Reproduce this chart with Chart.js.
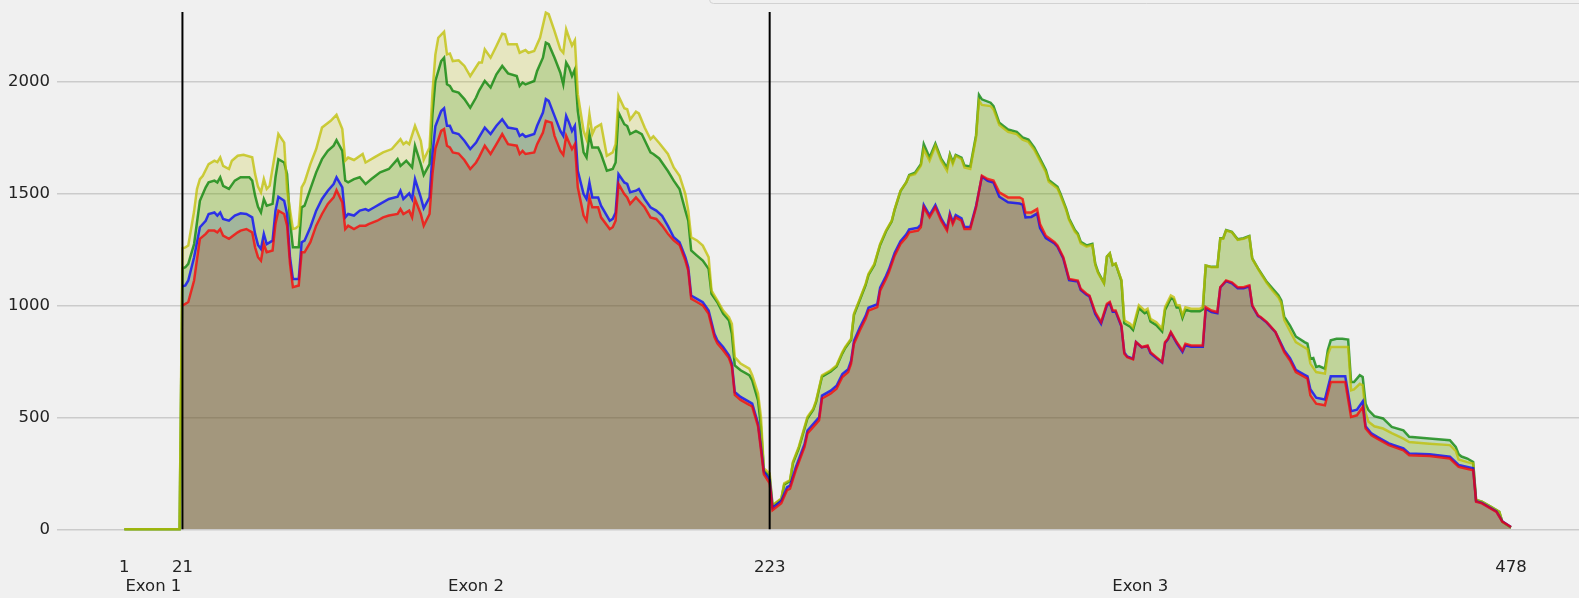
<!DOCTYPE html>
<html>
<head>
<meta charset="utf-8">
<script src="https://cdn.jsdelivr.net/npm/chart.js@4.4.1/dist/chart.umd.min.js"></script>
<style>
  html, body { margin: 0; padding: 0; background: #f0f0f0; overflow: hidden; }
  #wrap { width: 1579px; height: 598px; position: relative; }
</style>
</head>
<body>
<div id="wrap"><canvas id="c"></canvas></div>
<script>
// ---- data: [position, coverage] ----
const xTickValues = [1, 21, 223, 478];
const exonCenters = [11, 122, 350.5];
const exonNames = ["Exon 1", "Exon 2", "Exon 3"];
const exonBoundaries = [21, 223];
const yTickValues = [0, 500, 1000, 1500, 2000];

const yellowSeries = [[1,0],[20,0],[21,1255],[22,1259],[23,1267],[25,1420],[26,1520],[27,1564],[28,1579],[30,1631],[32,1646],[33,1640],[34,1661],[35,1623],[37,1609],[38,1646],[40,1668],[42,1672],[45,1661],[46,1586],[47,1530],[48,1505],[49,1564],[50,1520],[51,1534],[53,1690],[54,1765],[56,1727],[57,1512],[59,1341],[60,1345],[61,1356],[62,1527],[63,1550],[65,1631],[67,1698],[69,1794],[72,1824],[74,1851],[76,1787],[77,1646],[78,1660],[80,1649],[83,1676],[84,1638],[87,1661],[90,1683],[93,1698],[96,1742],[97,1720],[98,1730],[99,1720],[101,1802],[103,1735],[104,1650],[106,1705],[107,1950],[108,2120],[109,2195],[111,2222],[112,2121],[113,2125],[114,2091],[116,2094],[118,2069],[120,2024],[123,2084],[124,2084],[125,2143],[127,2106],[129,2158],[131,2213],[132,2210],[133,2166],[136,2166],[137,2128],[139,2140],[140,2128],[142,2136],[144,2195],[146,2307],[147,2300],[149,2225],[151,2143],[152,2128],[153,2233],[154,2195],[155,2160],[156,2184],[157,1943],[159,1779],[160,1742],[161,1854],[162,1765],[163,1794],[165,1809],[167,1668],[169,1683],[170,1720],[171,1935],[173,1880],[174,1876],[175,1830],[177,1865],[178,1857],[180,1794],[182,1742],[183,1755],[185,1725],[188,1676],[190,1616],[192,1579],[194,1497],[195,1423],[196,1304],[198,1290],[200,1267],[202,1215],[203,1066],[205,1022],[207,977],[209,947],[210,918],[211,769],[213,740],[216,717],[217,688],[219,606],[220,502],[221,272],[223,250],
[224,108],[227,138],[228,205],[230,220],[231,301],[233,368],[236,502],[238,539],[239,576],[241,688],[244,710],[246,732],[248,791],[249,814],[251,851],[252,963],[254,1029],[256,1096],[257,1141],[259,1185],[260,1230],[261,1274],[263,1334],[265,1378],[266,1430],[268,1512],[270,1549],[271,1579],[273,1586],[275,1623],[276,1697],[278,1646],[280,1713],[282,1646],[284,1601],[285,1668],[286,1631],[287,1668],[289,1653],[290,1616],[292,1609],[294,1750],[295,1915],[296,1895],[299,1890],[300,1875],[302,1805],[305,1775],[308,1765],[310,1740],[312,1730],[314,1695],[316,1645],[318,1595],[319,1552],[322,1522],[323,1492],[325,1425],[326,1381],[328,1329],[329,1314],[330,1277],[332,1262],[334,1269],[335,1180],[336,1143],[338,1098],[339,1217],[340,1232],[341,1180],[342,1187],[344,1113],[345,933],[347,918],[348,903],[350,1000],[352,977],[353,985],[354,940],[356,925],[358,896],[359,992],[361,1044],[362,1037],[363,1000],[364,1000],[365,955],[366,992],[368,985],[371,985],[372,992],[373,1178],[375,1170],[377,1170],[378,1297],[379,1297],[380,1334],[382,1326],[384,1292],[386,1297],[388,1307],[389,1208],[391,1163],[392,1141],[394,1100],[396,1065],[398,1035],[399,1010],[400,935],[402,885],[404,836],[407,812],[408,805],[409,740],[411,702],[414,695],[415,780],[416,814],[422,814],[423,621],[424,625],[426,650],[427,643],[428,520],[429,480],[431,460],[434,450],[437,430],[441,405],[443,390],[450,382],[457,376],[459,350],[460,312],[463,300],[465,294],[466,131],[468,123],[471,101],[474,78],[475,34],[478,8]];

const greenSeries = [[1,0],[20,0],[21,1165],[22,1170],[23,1185],[25,1274],[27,1467],[29,1527],[30,1549],[32,1557],[33,1549],[34,1572],[35,1534],[37,1520],[39,1557],[41,1572],[44,1572],[45,1557],[46,1490],[47,1440],[48,1415],[49,1475],[50,1445],[52,1453],[53,1572],[54,1653],[56,1638],[57,1586],[58,1378],[59,1259],[61,1259],[62,1438],[63,1445],[65,1520],[67,1594],[69,1653],[71,1690],[73,1713],[74,1738],[76,1690],[77,1557],[78,1549],[80,1564],[82,1572],[84,1542],[86,1564],[89,1594],[92,1609],[95,1653],[96,1623],[98,1646],[100,1616],[101,1713],[103,1631],[104,1583],[106,1631],[107,1854],[108,2002],[110,2091],[111,2106],[112,1987],[113,1980],[114,1958],[116,1950],[118,1921],[120,1883],[122,1928],[123,1958],[125,2002],[127,1973],[129,2032],[131,2069],[133,2036],[136,2024],[137,1980],[138,1995],[139,1987],[142,2002],[143,2047],[145,2106],[146,2173],[147,2166],[149,2106],[151,2039],[152,1987],[153,2084],[154,2062],[155,2024],[156,2054],[157,1869],[159,1683],[160,1661],[161,1765],[162,1705],[164,1705],[165,1676],[167,1601],[169,1609],[170,1638],[171,1861],[173,1809],[174,1801],[175,1765],[177,1779],[179,1765],[182,1683],[183,1676],[185,1656],[188,1600],[190,1557],[192,1520],[194,1423],[195,1378],[196,1245],[198,1222],[200,1200],[202,1163],[203,1052],[205,1014],[207,963],[209,933],[210,873],[211,732],[213,710],[216,688],[217,665],[219,576],[220,457],[221,264],[223,234],
[224,105],[227,135],[228,200],[230,216],[231,296],[233,362],[236,496],[238,534],[239,570],[241,682],[244,705],[246,727],[248,786],[249,810],[251,846],[252,958],[254,1024],[256,1091],[257,1136],[259,1180],[260,1226],[261,1270],[263,1330],[265,1376],[266,1428],[268,1510],[270,1550],[271,1582],[273,1592],[275,1630],[276,1720],[278,1660],[280,1722],[282,1655],[284,1615],[285,1675],[286,1640],[287,1672],[289,1660],[290,1625],[292,1620],[294,1760],[295,1940],[296,1920],[299,1905],[300,1890],[302,1815],[305,1785],[308,1775],[310,1750],[312,1740],[314,1705],[316,1655],[318,1605],[319,1560],[322,1530],[323,1500],[325,1432],[326,1388],[328,1336],[329,1320],[330,1284],[332,1268],[334,1275],[335,1186],[336,1148],[338,1100],[339,1218],[340,1232],[341,1180],[342,1186],[344,1110],[345,920],[347,905],[348,890],[350,988],[352,965],[353,972],[354,928],[356,912],[358,884],[359,980],[361,1032],[362,1026],[363,990],[364,990],[365,944],[366,980],[368,974],[371,974],[372,982],[373,1178],[375,1172],[377,1172],[378,1300],[379,1300],[380,1336],[382,1328],[384,1295],[386,1300],[388,1310],[389,1210],[391,1165],[392,1145],[394,1105],[396,1075],[398,1045],[399,1022],[400,950],[402,910],[404,861],[407,836],[408,829],[409,762],[410,765],[411,725],[412,729],[414,717],[415,800],[416,844],[418,851],[420,851],[422,847],[423,658],[424,658],[426,688],[427,680],[428,561],[429,532],[431,505],[434,495],[437,457],[441,442],[443,413],[450,405],[457,398],[459,368],[460,335],[461,325],[463,316],[465,301],[466,131],[468,123],[471,101],[474,78],[475,34],[478,8]];

const blueSeries = [[21,1085],[22,1089],[23,1111],[25,1215],[27,1349],[29,1378],[30,1408],[32,1415],[33,1401],[34,1415],[35,1386],[37,1378],[39,1401],[41,1411],[43,1408],[45,1393],[46,1319],[47,1270],[48,1252],[49,1319],[50,1274],[52,1289],[53,1423],[54,1485],[56,1467],[57,1408],[58,1215],[59,1118],[61,1118],[62,1282],[63,1289],[65,1349],[67,1423],[69,1475],[71,1512],[73,1542],[74,1572],[76,1527],[77,1393],[78,1408],[80,1401],[82,1423],[84,1430],[85,1423],[87,1438],[89,1453],[92,1475],[95,1485],[96,1512],[97,1475],[99,1500],[100,1475],[101,1564],[103,1482],[104,1434],[106,1482],[107,1675],[108,1800],[110,1868],[111,1880],[112,1802],[113,1802],[114,1772],[116,1765],[118,1735],[120,1698],[122,1727],[123,1750],[125,1794],[127,1765],[129,1802],[131,1831],[133,1794],[136,1787],[137,1757],[138,1765],[139,1753],[142,1765],[143,1802],[145,1861],[146,1921],[147,1913],[149,1846],[151,1779],[152,1757],[153,1846],[154,1816],[155,1779],[156,1802],[157,1601],[159,1497],[160,1475],[161,1549],[162,1482],[164,1482],[165,1445],[168,1378],[169,1386],[170,1415],[171,1586],[173,1549],[174,1542],[175,1505],[177,1512],[178,1520],[180,1475],[182,1438],[184,1423],[186,1400],[188,1355],[190,1304],[192,1282],[194,1215],[195,1170],[196,1044],[198,1029],[200,1014],[202,977],[204,873],[205,844],[207,814],[209,777],[210,740],[211,613],[213,591],[216,569],[217,561],[219,472],[220,368],[221,257],[223,220],
[224,95],[227,128],[229,188],[230,195],[232,277],[235,381],[236,441],[239,485],[240,500],[241,597],[244,619],[246,641],[248,693],[250,715],[251,753],[252,842],[254,901],[256,953],[257,990],[260,1005],[261,1079],[263,1131],[264,1161],[266,1235],[268,1287],[270,1317],[271,1339],[274,1347],[275,1360],[276,1448],[278,1403],[280,1448],[282,1388],[284,1344],[285,1411],[286,1373],[287,1403],[289,1388],[290,1350],[292,1350],[294,1445],[296,1575],[298,1556],[300,1548],[302,1485],[305,1460],[309,1455],[310,1450],[311,1393],[313,1395],[315,1410],[316,1345],[318,1300],[321,1276],[322,1262],[324,1210],[326,1113],[329,1106],[330,1069],[332,1047],[333,1040],[335,962],[337,918],[339,1000],[340,1010],[341,972],[342,972],[344,905],[345,790],[346,772],[348,762],[349,836],[351,812],[353,818],[354,786],[356,765],[358,745],[359,832],[360,848],[361,878],[363,832],[365,792],[366,822],[368,815],[372,815],[373,985],[375,970],[377,965],[378,1080],[380,1108],[382,1098],[384,1076],[386,1076],[388,1085],[389,998],[391,952],[392,945],[394,923],[397,880],[400,800],[402,764],[404,712],[407,690],[408,683],[409,625],[411,588],[414,580],[416,683],[421,683],[423,527],[425,534],[427,571],[428,460],[430,428],[432,413],[436,384],[441,361],[443,339],[450,335],[457,324],[460,287],[465,272],[466,125],[468,118],[473,80],[475,36],[478,10]];

const redSeries = [[21,1000],[22,1007],[23,1015],[25,1111],[27,1297],[29,1319],[30,1334],[32,1334],[33,1326],[34,1341],[35,1311],[37,1297],[40,1326],[41,1334],[43,1341],[45,1326],[46,1259],[47,1215],[48,1200],[49,1274],[50,1237],[52,1245],[53,1364],[54,1423],[56,1408],[57,1356],[58,1185],[59,1081],[61,1089],[62,1237],[63,1237],[65,1282],[67,1356],[69,1408],[71,1453],[73,1482],[74,1515],[76,1460],[77,1341],[78,1356],[80,1341],[82,1356],[84,1356],[85,1363],[88,1378],[90,1393],[92,1401],[95,1408],[96,1430],[97,1408],[99,1423],[100,1393],[101,1475],[103,1408],[104,1356],[106,1408],[107,1586],[108,1700],[110,1779],[111,1787],[112,1713],[113,1705],[114,1683],[116,1678],[118,1649],[120,1609],[122,1638],[123,1661],[125,1713],[127,1676],[129,1720],[131,1765],[133,1720],[136,1713],[137,1676],[138,1690],[139,1676],[142,1683],[143,1720],[145,1772],[146,1824],[148,1816],[149,1757],[151,1690],[152,1672],[153,1757],[154,1727],[155,1698],[156,1720],[157,1527],[159,1401],[160,1378],[161,1482],[162,1438],[164,1438],[165,1393],[168,1341],[169,1349],[170,1378],[171,1542],[173,1497],[174,1482],[175,1453],[177,1482],[180,1438],[182,1393],[184,1386],[186,1356],[188,1320],[190,1290],[192,1270],[194,1200],[195,1155],[196,1030],[198,1015],[200,1000],[202,962],[204,858],[205,830],[207,800],[209,765],[210,728],[211,600],[213,578],[216,556],[217,548],[219,460],[220,355],[221,245],[223,205],
[224,86],[227,116],[229,175],[230,182],[232,264],[235,368],[236,428],[239,472],[240,487],[241,584],[244,606],[246,628],[248,680],[250,702],[251,740],[252,829],[254,888],[256,940],[257,977],[260,992],[261,1066],[263,1118],[264,1148],[266,1222],[268,1274],[270,1304],[271,1326],[274,1334],[275,1349],[276,1438],[278,1393],[280,1438],[282,1378],[284,1334],[285,1401],[286,1363],[287,1393],[289,1378],[290,1341],[292,1341],[294,1438],[296,1579],[298,1564],[300,1557],[302,1505],[305,1482],[309,1482],[310,1475],[311,1415],[313,1415],[315,1430],[316,1363],[318,1311],[321,1282],[322,1267],[324,1215],[326,1118],[329,1111],[330,1074],[332,1052],[333,1044],[335,970],[337,925],[339,1007],[340,1015],[341,977],[342,977],[344,910],[345,784],[346,769],[348,759],[349,836],[351,814],[353,821],[354,791],[356,769],[358,747],[359,836],[360,851],[361,881],[363,836],[365,799],[366,829],[368,821],[372,821],[373,992],[375,977],[377,970],[378,1081],[380,1111],[382,1103],[384,1081],[386,1081],[388,1089],[389,1000],[391,955],[392,947],[394,925],[397,881],[400,791],[402,754],[404,702],[407,680],[408,673],[409,598],[411,561],[414,554],[416,658],[421,658],[423,502],[425,509],[427,546],[428,450],[430,420],[432,405],[436,376],[441,353],[443,331],[450,327],[457,316],[460,279],[465,264],[466,123],[468,116],[473,78],[475,34],[478,10]];

const seriesStyles = {
  yellow: { data: yellowSeries, line: 'rgba(191,191,0,0.75)', fill: 'rgba(191,191,0,0.2)' },
  green:  { data: greenSeries,  line: 'rgba(0,128,0,0.75)',   fill: 'rgba(0,128,0,0.2)' },
  blue:   { data: blueSeries,   line: 'rgba(0,0,255,0.75)',   fill: 'rgba(0,0,255,0.2)' },
  red:    { data: redSeries,    line: 'rgba(255,0,0,0.75)',   fill: 'rgba(255,0,0,0.25)' }
};
// Chart.js draws the highest dataset index first.
const lineOrder = ['red', 'blue', 'yellow', 'green'];   // red line ends on top
const fillOrder = ['yellow', 'green', 'blue', 'red'];   // red fill is painted first

const toXY = arr => arr.map(p => ({ x: p[0], y: p[1] }));

const lineDatasets = lineOrder.map(k => ({
  label: k,
  data: toXY(seriesStyles[k].data),
  borderColor: seriesStyles[k].line,
  borderWidth: 2.5,
  pointRadius: 0,
  tension: 0,
  fill: false,
  clip: false
}));
const fillDatasets = fillOrder.map(k => ({
  label: k + ' area',
  data: toXY(seriesStyles[k].data),
  borderWidth: 0,
  borderColor: 'rgba(0,0,0,0)',
  backgroundColor: seriesStyles[k].fill,
  pointRadius: 0,
  tension: 0,
  fill: 'origin',
  clip: false
}));

const xAllTicks = xTickValues.concat(exonCenters).sort((a, b) => a - b);
function xLabel(v) {
  if (xTickValues.indexOf(v) >= 0) return [String(v), ''];
  return ['', exonNames[exonCenters.indexOf(v)]];
}

const boundaryPlugin = {
  id: 'boundaries',
  afterDatasetsDraw(chart) {
    const { ctx, chartArea, scales } = chart;
    ctx.save();
    ctx.strokeStyle = '#000000';
    ctx.lineWidth = 2;
    exonBoundaries.forEach(v => {
      const x = scales.x.getPixelForValue(v);
      ctx.beginPath();
      ctx.moveTo(x, chartArea.top);
      ctx.lineTo(x, chartArea.bottom);
      ctx.stroke();
    });
    ctx.restore();
  }
};

const legendEdgePlugin = {
  id: 'legendEdge',
  afterDraw(chart) {
    const ctx = chart.ctx;
    ctx.save();
    ctx.strokeStyle = '#d2d2d2';
    ctx.lineWidth = 1;
    ctx.beginPath();
    ctx.roundRect(709.5, -30, 1000, 33.5, 4);
    ctx.stroke();
    ctx.restore();
  }
};

new Chart(document.getElementById('c'), {
  type: 'line',
  data: { datasets: lineDatasets.concat(fillDatasets) },
  options: {
    responsive: true,
    maintainAspectRatio: false,
    animation: false,
    events: [],
    layout: { padding: { top: 12, left: 8, right: 0, bottom: 0 } },
    plugins: {
      legend: { display: false },
      tooltip: { enabled: false },
      filler: { drawTime: 'beforeDatasetsDraw' }
    },
    scales: {
      x: {
        type: 'linear',
        position: 'bottom',
        min: -22.15,
        max: 501.4,
        grid: { display: false, drawTicks: false },
        border: { display: false },
        afterBuildTicks: axis => { axis.ticks = xAllTicks.map(v => ({ value: v })); },
        afterFit: axis => { axis.height = 68.7; },
        ticks: {
          autoSkip: false, maxRotation: 0, minRotation: 0,
          padding: 29.2, color: '#222222',
          font: { family: 'DejaVu Sans', size: 16.5, lineHeight: 1.145 },
          callback: v => xLabel(v)
        }
      },
      y: {
        type: 'linear',
        min: 0,
        max: 2310,
        grid: { color: '#cbcbcb', lineWidth: 1.5, drawTicks: false },
        border: { display: false },
        afterBuildTicks: axis => { axis.ticks = yTickValues.map(v => ({ value: v })); },
        afterFit: axis => { axis.width = 49; },
        ticks: {
          padding: 7, color: '#222222',
          font: { family: 'DejaVu Sans', size: 16.5, lineHeight: 0.6 },
          callback: v => String(v)
        }
      }
    }
  },
  plugins: [boundaryPlugin, legendEdgePlugin]
});
</script>
</body>
</html>
